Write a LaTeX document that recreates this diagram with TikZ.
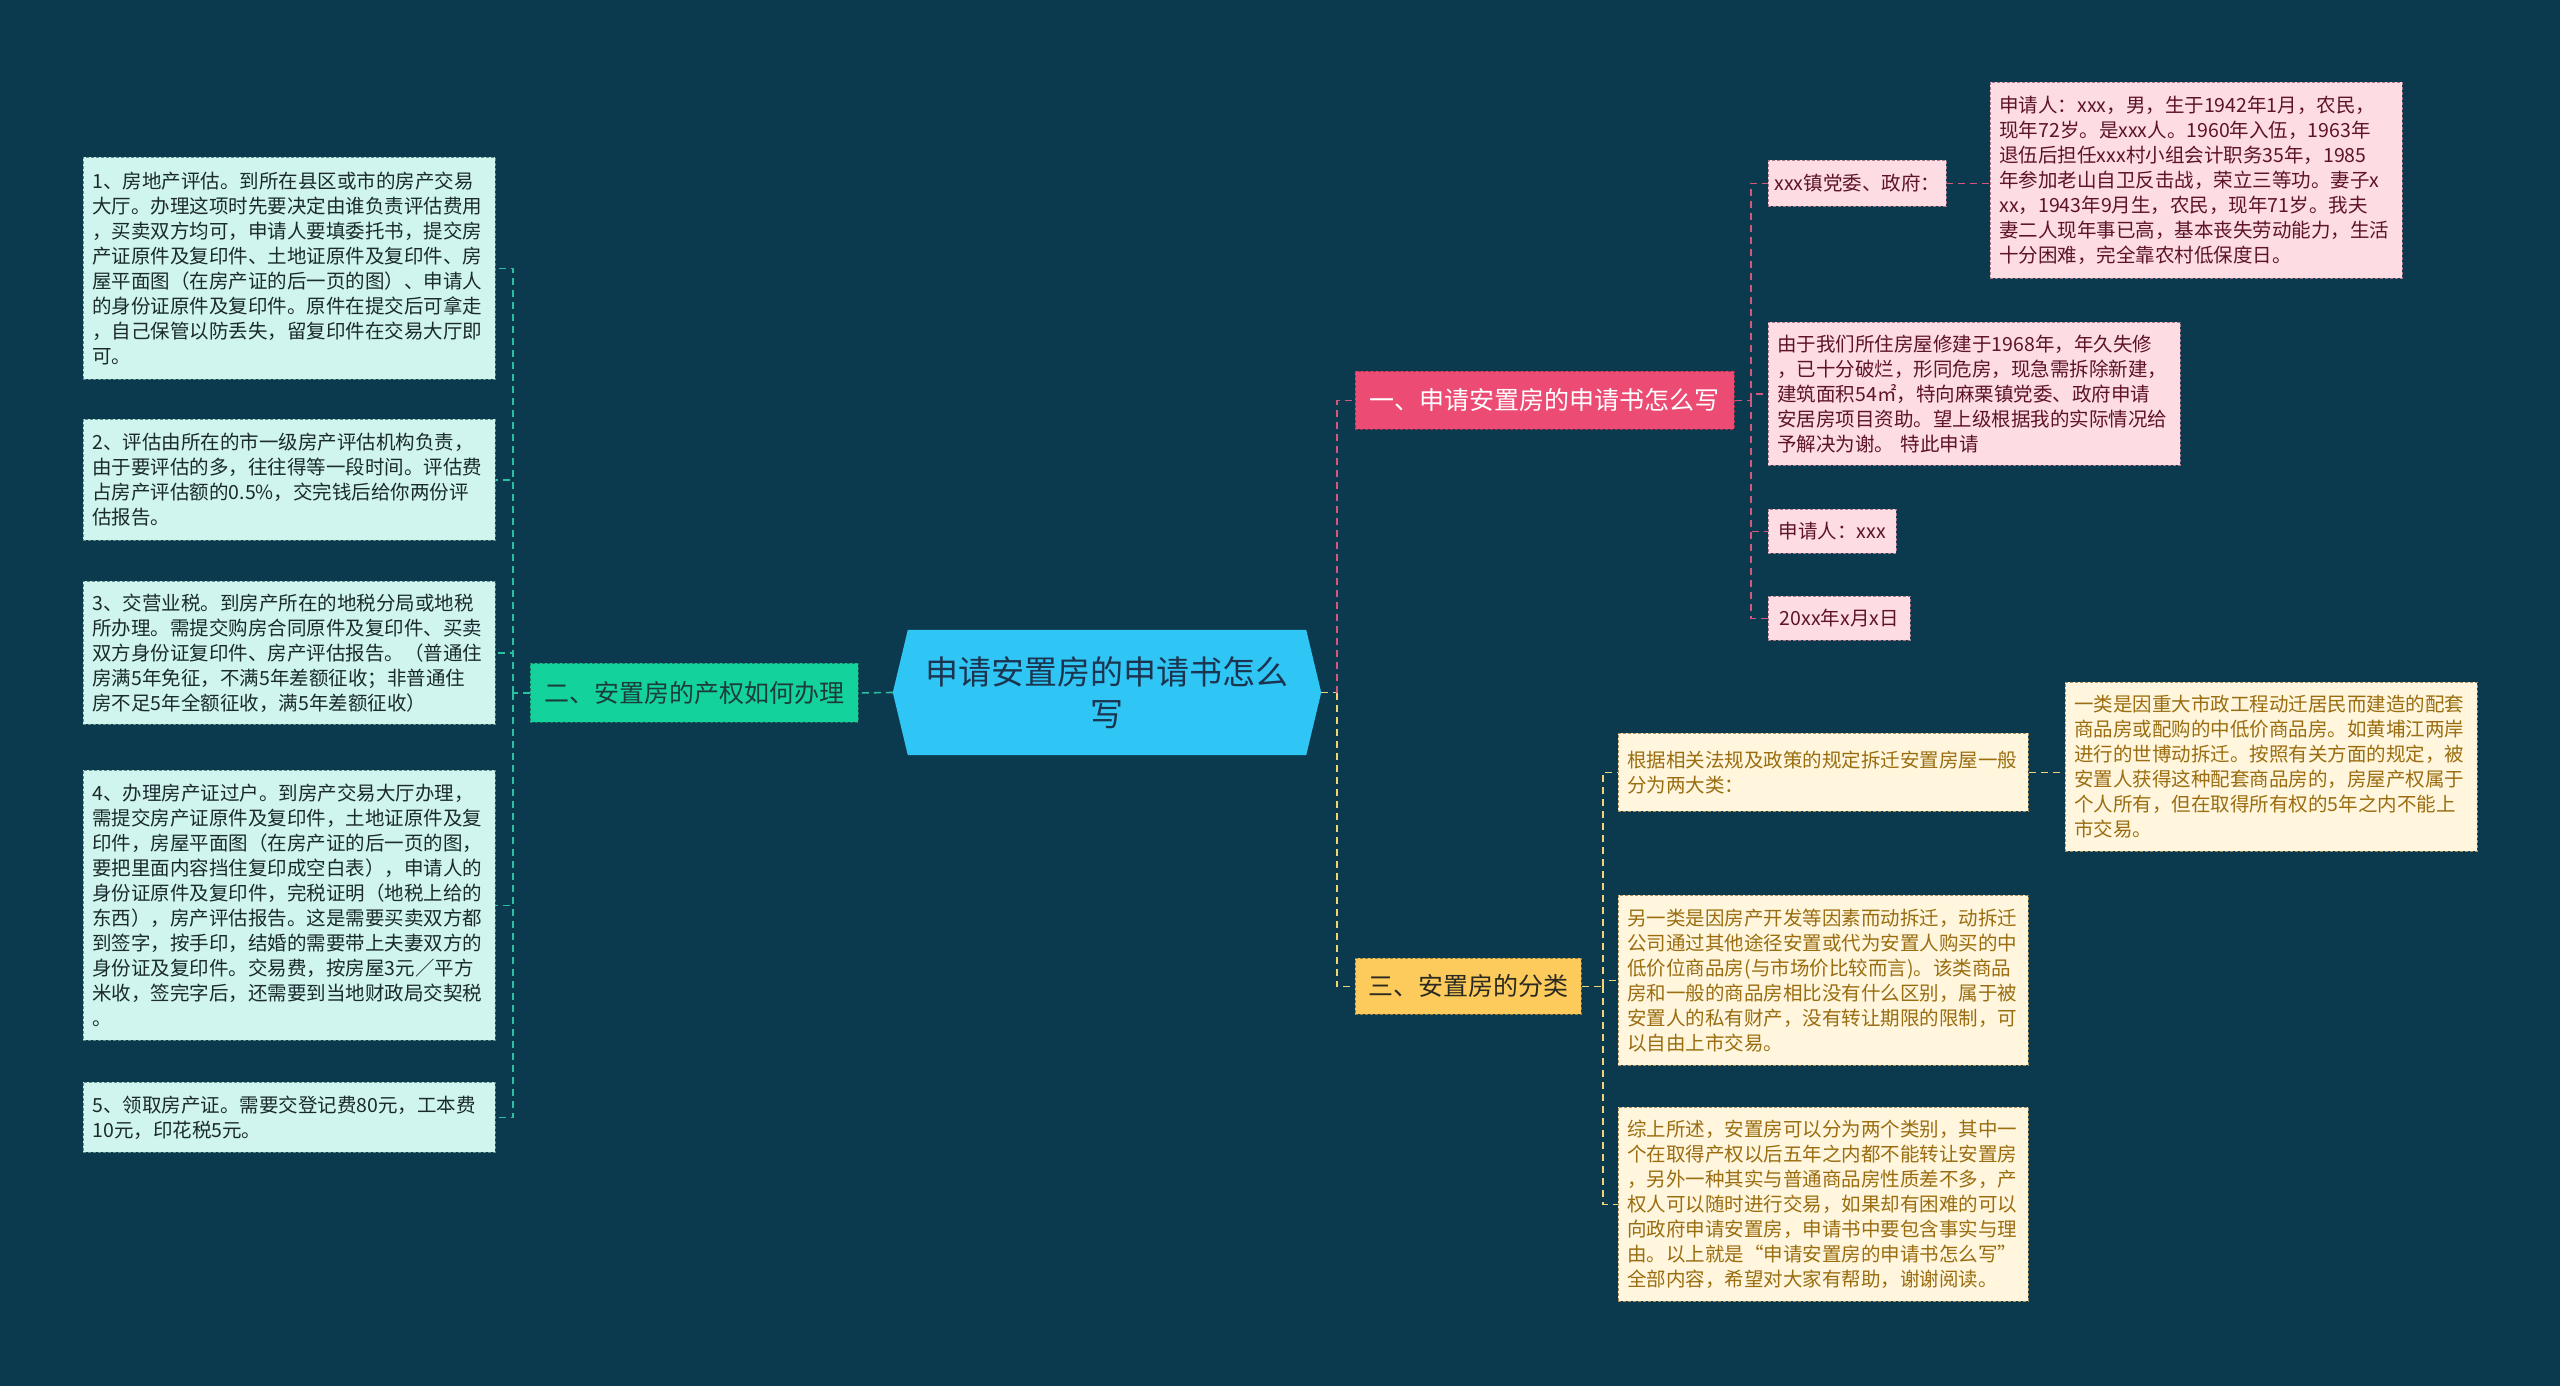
\documentclass[tikz,border=0pt]{standalone}
\usepackage{fontspec}
\setmainfont{Noto Sans CJK SC}
\usetikzlibrary{backgrounds}
\definecolor{bg}{HTML}{0B3A4E}
\definecolor{hexfill}{HTML}{2FC5F4}
\definecolor{hextext}{HTML}{1B3550}
\definecolor{gfill}{HTML}{14D29C}
\definecolor{gtext}{HTML}{1C3D3C}
\definecolor{gline}{HTML}{2BC0A0}
\definecolor{mfill}{HTML}{D0F5EE}
\definecolor{mline}{HTML}{5E8C86}
\definecolor{mtext}{HTML}{1A2A2E}
\definecolor{pfill}{HTML}{EC4B73}
\definecolor{pline}{HTML}{D4587C}
\definecolor{plfill}{HTML}{FDDCE3}
\definecolor{plline}{HTML}{A8788A}
\definecolor{pltext}{HTML}{5E1428}
\definecolor{yfill}{HTML}{FCCB5C}
\definecolor{ytext}{HTML}{2B2A20}
\definecolor{yline}{HTML}{F1D478}
\definecolor{cfill}{HTML}{FFF6DD}
\definecolor{cline}{HTML}{A89060}
\definecolor{ctext}{HTML}{9A6D10}
\newcommand\leaffont{\fontsize{19.5}{25}\selectfont}
\newcommand\headfont{\fontsize{25}{30}\selectfont}
\tikzset{
  box/.style={rectangle, anchor=north west, align=left, inner xsep=9pt, inner ysep=0pt,
    draw, line width=0.8pt, dash pattern=on 3pt off 2pt, font=\leaffont},
  mleaf/.style={box, fill=mfill, draw=mline, text=mtext},
  pleaf/.style={box, fill=plfill, draw=plline, text=pltext},
  cleaf/.style={box, fill=cfill, draw=cline, text=ctext},
  head/.style={rectangle, anchor=north west, align=center, inner sep=0pt, draw,
    line width=0.8pt, dash pattern=on 3pt off 2pt, font=\headfont},
  ghead/.style={head, fill=gfill, draw=gtext!60!gfill, text=gtext},
  phead/.style={head, fill=pfill, draw=pltext!50!pfill, text=white},
  yhead/.style={head, fill=yfill, draw=ytext!50!yfill, text=ytext},
  conn/.style={line width=1.6pt, dash pattern=on 7pt off 5pt},
  gconn/.style={conn, draw=gline},
  pconn/.style={conn, draw=pline},
  yconn/.style={conn, draw=yline},
}
\begin{document}
\begin{tikzpicture}[x=1pt,y=-1pt]
\useasboundingbox (0,0) rectangle (2560,1386);

% centre
\node[font=\fontsize{33}{42}\selectfont, text=hextext, align=center, inner sep=0pt,
  minimum width=428pt, minimum height=125pt] (c) at (1107,692.5) {申请安置房的申请书怎么\\写};

% headings
\node[ghead, minimum width=328pt, minimum height=59pt] (h2) at (530,663) {二、安置房的产权如何办理};
\node[phead, minimum width=379pt, minimum height=58pt] (h1) at (1355,371) {一、申请安置房的申请书怎么写};
\node[yhead, minimum width=226pt, minimum height=56pt] (h3) at (1355,958) {三、安置房的分类};

% left leaves
\node[mleaf, text width=394pt, minimum height=222pt] (l1) at (83,157) {1、房地产评估。到所在县区或市的房产交易\\大厅。办理这项时先要决定由谁负责评估费用\\，买卖双方均可，申请人要填委托书，提交房\\产证原件及复印件、土地证原件及复印件、房\\屋平面图（在房产证的后一页的图）、申请人\\的身份证原件及复印件。原件在提交后可拿走\\，自己保管以防丢失，留复印件在交易大厅即\\可。};
\node[mleaf, text width=394pt, minimum height=121pt] (l2) at (83,419) {2、评估由所在的市一级房产评估机构负责，\\由于要评估的多，往往得等一段时间。评估费\\占房产评估额的0.5\%，交完钱后给你两份评\\估报告。};
\node[mleaf, text width=394pt, minimum height=143pt] (l3) at (83,581) {3、交营业税。到房产所在的地税分局或地税\\所办理。需提交购房合同原件及复印件、买卖\\双方身份证复印件、房产评估报告。（普通住\\房满5年免征，不满5年差额征收；非普通住\\房不足5年全额征收，满5年差额征收）};
\node[mleaf, text width=394pt, minimum height=270pt] (l4) at (83,770) {4、办理房产证过户。到房产交易大厅办理，\\需提交房产证原件及复印件，土地证原件及复\\印件，房屋平面图（在房产证的后一页的图，\\要把里面内容挡住复印成空白表），申请人的\\身份证原件及复印件，完税证明（地税上给的\\东西），房产评估报告。这是需要买卖双方都\\到签字，按手印，结婚的需要带上夫妻双方的\\身份证及复印件。交易费，按房屋3元／平方\\米收，签完字后，还需要到当地财政局交契税\\。};
\node[mleaf, text width=394pt, minimum height=70pt] (l5) at (83,1082) {5、领取房产证。需要交登记费80元，工本费\\10元，印花税5元。};

% pink leaves
\node[pleaf, minimum width=176pt, minimum height=46pt, inner xsep=6pt] (p1) at (1768,160) {xxx镇党委、政府：};
\node[pleaf, text width=394pt, minimum height=196pt] (p1a) at (1990,82) {申请人：xxx，男，生于1942年1月，农民，\\现年72岁。是xxx人。1960年入伍，1963年\\退伍后担任xxx村小组会计职务35年，1985\\年参加老山自卫反击战，荣立三等功。妻子x\\xx，1943年9月生，农民，现年71岁。我夫\\妻二人现年事已高，基本丧失劳动能力，生活\\十分困难，完全靠农村低保度日。};
\node[pleaf, text width=394pt, minimum height=143pt] (p2) at (1768,322) {由于我们所住房屋修建于1968年，年久失修\\，已十分破烂，形同危房，现急需拆除新建，\\建筑面积54㎡，特向麻栗镇党委、政府申请\\安居房项目资助。望上级根据我的实际情况给\\予解决为谢。 特此申请};
\node[pleaf, minimum width=128pt, minimum height=44pt, inner xsep=8pt] (p3) at (1768,509) {申请人：xxx};
\node[pleaf, minimum width=142pt, minimum height=44pt, inner xsep=8pt] (p4) at (1768,596) {20xx年x月x日};

% cream leaves
\node[cleaf, text width=392pt, minimum height=78pt] (y1) at (1618,733) {根据相关法规及政策的规定拆迁安置房屋一般\\分为两大类：};
\node[cleaf, text width=394pt, minimum height=169pt] (y1a) at (2065,682) {一类是因重大市政工程动迁居民而建造的配套\\商品房或配购的中低价商品房。如黄埔江两岸\\进行的世博动拆迁。按照有关方面的规定，被\\安置人获得这种配套商品房的，房屋产权属于\\个人所有，但在取得所有权的5年之内不能上\\市交易。};
\node[cleaf, text width=392pt, minimum height=170pt] (y2) at (1618,895) {另一类是因房产开发等因素而动拆迁，动拆迁\\公司通过其他途径安置或代为安置人购买的中\\低价位商品房(与市场价比较而言)。该类商品\\房和一般的商品房相比没有什么区别，属于被\\安置人的私有财产，没有转让期限的限制，可\\以自由上市交易。};
\node[cleaf, text width=392pt, minimum height=194pt] (y3) at (1618,1107) {综上所述，安置房可以分为两个类别，其中一\\个在取得产权以后五年之内都不能转让安置房\\，另外一种其实与普通商品房性质差不多，产\\权人可以随时进行交易，如果却有困难的可以\\向政府申请安置房，申请书中要包含事实与理\\由。以上就是“申请安置房的申请书怎么写”\\全部内容，希望对大家有帮助，谢谢阅读。};

\begin{scope}[on background layer]
\fill[bg] (0,0) rectangle (2560,1386);
\fill[hexfill] (c.west) -- ([xshift=15pt]c.north west) -- ([xshift=-15pt]c.north east) -- (c.east)
  -- ([xshift=-15pt]c.south east) -- ([xshift=15pt]c.south west) -- cycle;
% connectors
\draw[gconn] (c.west) -- (h2.east);
\draw[gconn] (h2.west) -- ++(-17,0) coordinate (lv);
\foreach \n in {l1,l2,l3,l4,l5} \draw[gconn] (lv) |- (\n.east);
\draw[yconn] (c.east) -- ++(16,0) coordinate (rv);
\draw[pconn] (rv) |- (h1.west);
\draw[yconn] (rv) |- (h3.west);
\draw[pconn] (h1.east) -- ++(16,0) coordinate (pv);
\foreach \n in {p1,p2,p3,p4} \draw[pconn] (pv) |- (\n.west);
\draw[pconn] (p1.east) -- (p1.east -| p1a.west);
\draw[yconn] (h3.east) -- ++(21,0) coordinate (yv);
\foreach \n in {y1,y2,y3} \draw[yconn] (yv) |- (\n.west);
\draw[yconn] (y1.east) -- (y1.east -| y1a.west);
\end{scope}
\end{tikzpicture}
\end{document}
